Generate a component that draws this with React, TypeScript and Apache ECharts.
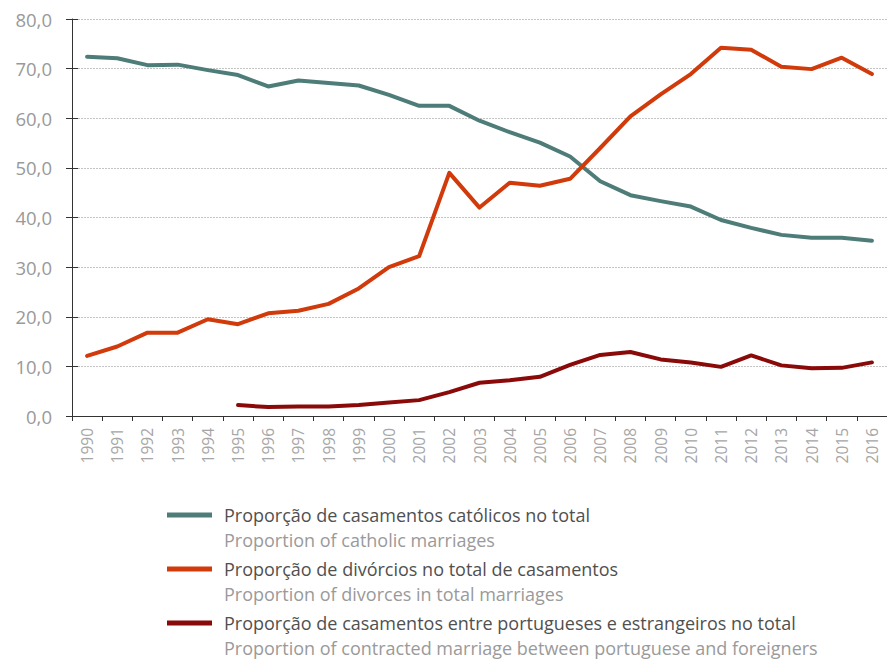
import React, { useEffect, useRef } from "react";
import * as echarts from "echarts";

const years = [
  "1990", "1991", "1992", "1993", "1994", "1995", "1996", "1997", "1998", "1999",
  "2000", "2001", "2002", "2003", "2004", "2005", "2006", "2007", "2008", "2009",
  "2010", "2011", "2012", "2013", "2014", "2015", "2016",
];

const catholic = [
  72.4, 72.1, 70.7, 70.8, 69.7, 68.7, 66.4, 67.6, 67.1, 66.6,
  64.7, 62.5, 62.5, 59.5, 57.2, 55.1, 52.3, 47.3, 44.5, 43.3,
  42.2, 39.5, 37.9, 36.5, 35.9, 35.9, 35.3,
];

const divorces = [
  12.1, 14.0, 16.8, 16.8, 19.5, 18.5, 20.7, 21.2, 22.6, 25.7,
  30.0, 32.2, 49.0, 42.0, 47.0, 46.4, 47.8, 54.0, 60.4, 64.8,
  68.9, 74.2, 73.8, 70.4, 69.9, 72.2, 68.9,
];

const foreigners = [
  null, null, null, null, null, 2.2, 1.8, 1.9, 1.9, 2.2,
  2.7, 3.2, 4.8, 6.7, 7.2, 7.9, 10.3, 12.3, 12.9, 11.4,
  10.8, 9.9, 12.2, 10.2, 9.6, 9.7, 10.8,
];

const seriesNamesPt = [
  "Proporção de casamentos católicos no total",
  "Proporção de divórcios no total de casamentos",
  "Proporção de casamentos entre portugueses e estrangeiros no total",
];

const seriesNamesEn = [
  "Proportion of catholic marriages",
  "Proportion of divorces in total marriages",
  "Proportion of contracted marriage between portuguese and foreigners",
];

const colors = ["#4d7c79", "#d13a0b", "#8a0a0a"];

const FONT = "'Open Sans', 'DejaVu Sans', sans-serif";

export default function App() {
  const ref = useRef<HTMLDivElement>(null);

  useEffect(() => {
    if (!ref.current) return;
    const chart = echarts.init(ref.current, undefined, { renderer: "svg" });
    const dataSets = [catholic, divorces, foreigners];

    const legendTop = 504;
    const legendStep = 54;

    const option: any = {
      animation: false,
      backgroundColor: "#ffffff",
      textStyle: { fontFamily: FONT },
      grid: { left: 72, top: 19, width: 819, height: 397, containLabel: false },
      legend: {
        orient: "vertical",
        left: 167,
        top: legendTop,
        padding: 0,
        itemWidth: 45,
        itemHeight: 5,
        itemGap: legendStep - 22,
        icon: "rect",
        selectedMode: false,
        data: seriesNamesPt,
        textStyle: {
          fontFamily: FONT,
          fontSize: 18,
          color: "#505050",
          lineHeight: 22,
          padding: [0, 0, 0, 7],
        },
      },
      graphic: seriesNamesEn.map((t, i) => ({
        type: "text",
        x: 224,
        y: legendTop + 11 + 25 + i * legendStep,
        style: {
          text: t,
          fontFamily: FONT,
          fontSize: 18,
          fill: "#9a9a9a",
          verticalAlign: "middle",
        },
      })),
      xAxis: {
        type: "category",
        data: years,
        boundaryGap: true,
        axisLine: { lineStyle: { color: "#333333", width: 1 } },
        axisTick: { show: true, length: 5, lineStyle: { color: "#333333" } },
        axisLabel: {
          rotate: 90,
          margin: 12,
          fontSize: 15.5,
          color: "#a6a6a6",
          fontFamily: FONT,
        },
        splitLine: { show: false },
      },
      yAxis: [
        {
          type: "value",
          min: 0,
          max: 80,
          interval: 10,
          axisLine: { show: true, lineStyle: { color: "#333333", width: 1 } },
          axisTick: { show: true, length: 6, lineStyle: { color: "#333333" } },
          axisLabel: {
            margin: 20,
            fontSize: 18.5,
            color: "#999999",
            fontFamily: FONT,
            formatter: (v: number) => v.toFixed(1).replace(".", ","),
          },
          splitLine: {
            show: true,
            lineStyle: { color: "#c4c4c4", type: [2, 1], width: 1 },
          },
        },
        {
          type: "value",
          min: 0,
          max: 80,
          interval: 10,
          position: "left",
          axisLine: { show: false },
          axisTick: { show: true, inside: true, length: 6, lineStyle: { color: "#333333" } },
          axisLabel: { show: false },
          splitLine: { show: false },
        },
      ],
      series: dataSets.map((d, i) => ({
        name: seriesNamesPt[i],
        type: "line",
        data: d,
        yAxisIndex: 0,
        symbol: "none",
        showSymbol: false,
        connectNulls: false,
        color: colors[i],
        lineStyle: { color: colors[i], width: 4, cap: "round", join: "round" },
        itemStyle: { color: colors[i] },
      })),
    };

    chart.setOption(option);
    return () => chart.dispose();
  }, []);

  return (
    <div
      ref={ref}
      style={{ position: "fixed", left: 0, top: 0, width: 887, height: 659, background: "#fff" }}
    />
  );
}
